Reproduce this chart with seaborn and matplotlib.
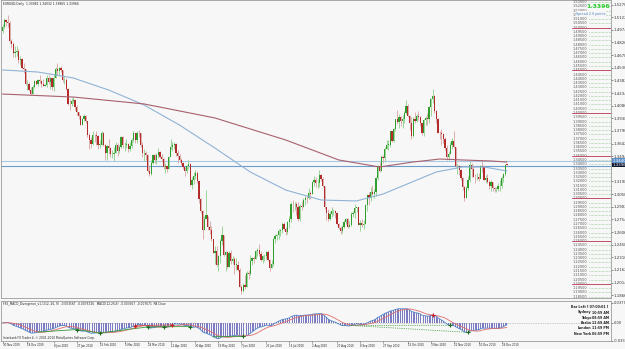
import numpy as np
import pandas as pd
import matplotlib
matplotlib.use("Agg")
import matplotlib.pyplot as plt
import matplotlib.transforms as mtransforms
import seaborn as sns

# EURUSD daily bars, one row per week (Mon..Fri), 30 Nov 2009 .. 3 Jan 2011
closes = [
    1.5005, 1.5090, 1.5060, 1.5055, 1.4845,
    1.4805, 1.4700, 1.4720, 1.4730, 1.4615,
    1.4630, 1.4530, 1.4510, 1.4340, 1.4345,
    1.4275, 1.4225, 1.4305, 1.4370, 1.4345,
    1.4385, 1.4375, 1.4335, 1.4320, 1.4330,
    1.4415, 1.4365, 1.4405, 1.4310, 1.4410,
    1.4510, 1.4490, 1.4525, 1.4500, 1.4385,
    1.4390, 1.4285, 1.4105, 1.4100, 1.4145,
    1.4150, 1.4075, 1.4015, 1.3960, 1.3865,
    1.3930, 1.3960, 1.3910, 1.3740, 1.3680,
    1.3635, 1.3745, 1.3740, 1.3730, 1.3630,
    1.3630, 1.3770, 1.3630, 1.3530, 1.3610,
    1.3595, 1.3515, 1.3520, 1.3530, 1.3625,
    1.3560, 1.3600, 1.3720, 1.3620, 1.3630,
    1.3635, 1.3575, 1.3615, 1.3680, 1.3760,
    1.3680, 1.3770, 1.3765, 1.3630, 1.3530,
    1.3530, 1.3510, 1.3315, 1.3290, 1.3410,
    1.3505, 1.3445, 1.3510, 1.3545, 1.3490,
    1.3460, 1.3365, 1.3380, 1.3345, 1.3480,
    1.3605, 1.3630, 1.3640, 1.3535, 1.3495,
    1.3455, 1.3415, 1.3365, 1.3315, 1.3375,
    1.3405, 1.3160, 1.3220, 1.3265, 1.3295,
    1.3200, 1.2995, 1.2850, 1.2630, 1.2760,
    1.2800, 1.2660, 1.2625, 1.2520, 1.2360,
    1.2380, 1.2225, 1.2330, 1.2500, 1.2570,
    1.2340, 1.2375, 1.2200, 1.2360, 1.2270,
    1.2285, 1.2225, 1.2225, 1.2160, 1.1965,
    1.1920, 1.1985, 1.1965, 1.2130, 1.2110,
    1.2270, 1.2300, 1.2290, 1.2380, 1.2390,
    1.2345, 1.2280, 1.2320, 1.2330, 1.2375,
    1.2275, 1.2190, 1.2230, 1.2520, 1.2565,
    1.2570, 1.2620, 1.2625, 1.2700, 1.2640,
    1.2610, 1.2725, 1.2760, 1.2940, 1.2935,
    1.2940, 1.2905, 1.2760, 1.2915, 1.2905,
    1.2985, 1.3010, 1.3000, 1.3065, 1.3050,
    1.3190, 1.3215, 1.3175, 1.3185, 1.3275,
    1.3225, 1.3145, 1.2895, 1.2830, 1.2755,
    1.2815, 1.2850, 1.2850, 1.2825, 1.2705,
    1.2655, 1.2620, 1.2660, 1.2725, 1.2760,
    1.2660, 1.2685, 1.2815, 1.2830, 1.2890,
    1.2900, 1.2690, 1.2710, 1.2685, 1.2700,
    1.2920, 1.3040, 1.3000, 1.3080, 1.3050,
    1.3070, 1.3235, 1.3380, 1.3325, 1.3490,
    1.3470, 1.3580, 1.3630, 1.3630, 1.3785,
    1.3675, 1.3810, 1.3925, 1.3895, 1.3950,
    1.3905, 1.3930, 1.4000, 1.4085, 1.3965,
    1.3880, 1.3725, 1.3935, 1.3910, 1.3960,
    1.3955, 1.3885, 1.3760, 1.3915, 1.3945,
    1.3925, 1.4065, 1.4165, 1.4200, 1.4025,
    1.3925, 1.3770, 1.3765, 1.3750, 1.3690,
    1.3590, 1.3485, 1.3520, 1.3620, 1.3670,
    1.3600, 1.3375, 1.3375, 1.3330, 1.3240,
    1.3130, 1.3005, 1.3125, 1.3215, 1.3395,
    1.3350, 1.3255, 1.3245, 1.3255, 1.3225,
    1.3385, 1.3370, 1.3215, 1.3240, 1.3190,
    1.3150, 1.3190, 1.3120, 1.3105, 1.3110,
    1.3145, 1.3150, 1.3235, 1.3285, 1.3390,
    1.33966,
]
highs = [
    1.5040, 1.5110, 1.5100, 1.5145, 1.5075,
    1.4865, 1.4830, 1.4785, 1.4780, 1.4745,
    1.4670, 1.4640, 1.4585, 1.4520, 1.4385,
    1.4365, 1.4300, 1.4330, 1.4385, 1.4375,
    1.4400, 1.4440, 1.4385, 1.4395, 1.4340,
    1.4450, 1.4445, 1.4425, 1.4410, 1.4460,
    1.4535, 1.4580, 1.4535, 1.4545, 1.4505,
    1.4425, 1.4410, 1.4290, 1.4165, 1.4175,
    1.4185, 1.4160, 1.4095, 1.4015, 1.3975,
    1.3940, 1.3990, 1.3975, 1.3910, 1.3765,
    1.3720, 1.3795, 1.3755, 1.3790, 1.3745,
    1.3685, 1.3790, 1.3780, 1.3640, 1.3630,
    1.3690, 1.3600, 1.3565, 1.3600, 1.3660,
    1.3650, 1.3625, 1.3735, 1.3725, 1.3660,
    1.3690, 1.3645, 1.3665, 1.3705, 1.3785,
    1.3770, 1.3785, 1.3800, 1.3765, 1.3660,
    1.3580, 1.3550, 1.3515, 1.3385, 1.3450,
    1.3525, 1.3515, 1.3530, 1.3585, 1.3555,
    1.3525, 1.3470, 1.3420, 1.3385, 1.3500,
    1.3690, 1.3655, 1.3665, 1.3645, 1.3565,
    1.3520, 1.3475, 1.3430, 1.3370, 1.3395,
    1.3445, 1.3415, 1.3255, 1.3310, 1.3335,
    1.3320, 1.3205, 1.3010, 1.2860, 1.2790,
    1.3095, 1.2795, 1.2735, 1.2675, 1.2530,
    1.2440, 1.2440, 1.2335, 1.2525, 1.2675,
    1.2575, 1.2380, 1.2385, 1.2385, 1.2390,
    1.2325, 1.2310, 1.2300, 1.2265, 1.2185,
    1.1990, 1.2010, 1.2100, 1.2150, 1.2165,
    1.2340, 1.2315, 1.2330, 1.2400, 1.2425,
    1.2470, 1.2380, 1.2340, 1.2345, 1.2385,
    1.2395, 1.2285, 1.2275, 1.2535, 1.2580,
    1.2585, 1.2645, 1.2645, 1.2720, 1.2720,
    1.2665, 1.2740, 1.2790, 1.2955, 1.2985,
    1.2960, 1.2955, 1.2955, 1.2935, 1.2965,
    1.3000, 1.3025, 1.3045, 1.3120, 1.3090,
    1.3200, 1.3265, 1.3245, 1.3225, 1.3333,
    1.3290, 1.3245, 1.3140, 1.2890, 1.2870,
    1.2850, 1.2900, 1.2880, 1.2865, 1.2835,
    1.2715, 1.2675, 1.2685, 1.2745, 1.2770,
    1.2770, 1.2730, 1.2835, 1.2850, 1.2935,
    1.2905, 1.2900, 1.2745, 1.2760, 1.2745,
    1.2930, 1.3050, 1.3075, 1.3130, 1.3160,
    1.3110, 1.3250, 1.3390, 1.3425, 1.3510,
    1.3505, 1.3600, 1.3685, 1.3680, 1.3795,
    1.3790, 1.3825, 1.3935, 1.4030, 1.3985,
    1.3970, 1.3980, 1.4020, 1.4155, 1.4100,
    1.3975, 1.3950, 1.3955, 1.4010, 1.3985,
    1.4020, 1.3965, 1.3885, 1.3925, 1.3970,
    1.4000, 1.4085, 1.4175, 1.4282, 1.4205,
    1.4035, 1.3945, 1.3790, 1.3810, 1.3765,
    1.3715, 1.3620, 1.3560, 1.3660, 1.3710,
    1.3785, 1.3600, 1.3415, 1.3395, 1.3340,
    1.3250, 1.3140, 1.3150, 1.3260, 1.3435,
    1.3420, 1.3395, 1.3280, 1.3300, 1.3295,
    1.3395, 1.3445, 1.3390, 1.3270, 1.3290,
    1.3220, 1.3215, 1.3195, 1.3135, 1.3130,
    1.3175, 1.3220, 1.3260, 1.3300, 1.3400,
    1.34032,
]
lows = [
    1.4940, 1.4990, 1.5015, 1.5010, 1.4820,
    1.4760, 1.4660, 1.4655, 1.4670, 1.4585,
    1.4560, 1.4510, 1.4470, 1.4325, 1.4265,
    1.4260, 1.4215, 1.4220, 1.4290, 1.4330,
    1.4320, 1.4350, 1.4305, 1.4315, 1.4315,
    1.4310, 1.4340, 1.4285, 1.4265, 1.4255,
    1.4410, 1.4450, 1.4435, 1.4480, 1.4360,
    1.4340, 1.4275, 1.4090, 1.4030, 1.4085,
    1.4120, 1.4035, 1.3975, 1.3930, 1.3855,
    1.3855, 1.3905, 1.3880, 1.3715, 1.3580,
    1.3590, 1.3630, 1.3660, 1.3620, 1.3580,
    1.3590, 1.3620, 1.3610, 1.3445, 1.3445,
    1.3520, 1.3490, 1.3470, 1.3435, 1.3530,
    1.3500, 1.3535, 1.3590, 1.3585, 1.3560,
    1.3585, 1.3545, 1.3560, 1.3590, 1.3660,
    1.3650, 1.3650, 1.3720, 1.3600, 1.3490,
    1.3435, 1.3445, 1.3305, 1.3265, 1.3270,
    1.3400, 1.3420, 1.3405, 1.3470, 1.3470,
    1.3425, 1.3340, 1.3300, 1.3305, 1.3340,
    1.3580, 1.3555, 1.3575, 1.3500, 1.3410,
    1.3425, 1.3395, 1.3340, 1.3260, 1.3300,
    1.3345, 1.3145, 1.3110, 1.3165, 1.3225,
    1.3180, 1.2950, 1.2825, 1.2520, 1.2655,
    1.2770, 1.2625, 1.2585, 1.2505, 1.2355,
    1.2235, 1.2210, 1.2145, 1.2245, 1.2455,
    1.2325, 1.2145, 1.2190, 1.2200, 1.2235,
    1.2235, 1.2110, 1.2160, 1.2150, 1.1960,
    1.1876, 1.1900, 1.1940, 1.1960, 1.2060,
    1.2100, 1.2220, 1.2240, 1.2285, 1.2330,
    1.2320, 1.2270, 1.2240, 1.2270, 1.2290,
    1.2270, 1.2150, 1.2185, 1.2210, 1.2475,
    1.2515, 1.2520, 1.2555, 1.2600, 1.2630,
    1.2575, 1.2580, 1.2655, 1.2725, 1.2840,
    1.2860, 1.2810, 1.2730, 1.2730, 1.2860,
    1.2895, 1.2925, 1.2950, 1.2990, 1.2995,
    1.3050, 1.3150, 1.3135, 1.3125, 1.3135,
    1.3205, 1.3135, 1.2880, 1.2745, 1.2735,
    1.2745, 1.2780, 1.2800, 1.2775, 1.2690,
    1.2640, 1.2585, 1.2590, 1.2650, 1.2695,
    1.2655, 1.2660, 1.2675, 1.2785, 1.2770,
    1.2845, 1.2685, 1.2615, 1.2670, 1.2640,
    1.2705, 1.2850, 1.2925, 1.2975, 1.3045,
    1.3010, 1.3025, 1.3220, 1.3305, 1.3315,
    1.3420, 1.3435, 1.3575, 1.3565, 1.3605,
    1.3655, 1.3665, 1.3795, 1.3870, 1.3830,
    1.3850, 1.3820, 1.3885, 1.3990, 1.3950,
    1.3800, 1.3695, 1.3715, 1.3880, 1.3890,
    1.3920, 1.3850, 1.3745, 1.3730, 1.3865,
    1.3860, 1.3885, 1.3970, 1.4115, 1.4000,
    1.3885, 1.3770, 1.3695, 1.3620, 1.3645,
    1.3570, 1.3450, 1.3445, 1.3520, 1.3580,
    1.3585, 1.3365, 1.3290, 1.3270, 1.3220,
    1.3100, 1.2969, 1.3000, 1.3100, 1.3195,
    1.3245, 1.3250, 1.3175, 1.3220, 1.3205,
    1.3235, 1.3305, 1.3210, 1.3180, 1.3175,
    1.3105, 1.3090, 1.3085, 1.3070, 1.3080,
    1.3090, 1.3090, 1.3125, 1.3195, 1.3265,
    1.33865,
]
firstOpen = 1.4960
lastOpen = 1.33982

# moving averages (bar index, price)
maFastIdx = [0, 20, 40, 60, 80, 100, 120, 140, 160, 180, 200, 215, 230, 245, 260, 272, 285]
maFastVals = [1.4504, 1.4480, 1.4410, 1.4269, 1.4094, 1.3859, 1.3590, 1.3309, 1.3098,
              1.2981, 1.2970, 1.3051, 1.3180, 1.3309, 1.3368, 1.3368, 1.3321]
maSlowIdx = [0, 40, 80, 120, 160, 190, 213, 232, 247, 260, 276, 285]
maSlowVals = [1.4222, 1.4187, 1.4106, 1.3942, 1.3684, 1.3450, 1.3368, 1.3426, 1.3461,
              1.3450, 1.3438, 1.3426]

# horizontal levels drawn on the chart
levelLines = [1.3440, 1.3385]
levelColors = ["#a9c8e4", "#6b9ccc"]

# right price scale labels
priceTicks = [1.5270, 1.5122, 1.4974, 1.4826, 1.4678, 1.4530, 1.4382, 1.4234, 1.4086,
              1.3938, 1.3790, 1.3642, 1.3494, 1.3198, 1.3050, 1.2902, 1.2754,
              1.2606, 1.2458, 1.2310, 1.2162, 1.2014, 1.1866]

# price ladder levels in pips (every 50 pips, red mark every 500)
ladderPips = list(range(11850, 15301, 50))

dateLabels = ["30 Nov 2009", "18 Dec 2009", "8 Jan 2010", "27 Jan 2010", "15 Feb 2010",
              "5 Mar 2010", "24 Mar 2010", "12 Apr 2010", "30 Apr 2010", "19 May 2010",
              "7 Jun 2010", "25 Jun 2010", "14 Jul 2010", "2 Aug 2010", "20 Aug 2010",
              "8 Sep 2010", "27 Sep 2010", "15 Oct 2010", "3 Nov 2010", "22 Nov 2010",
              "10 Dec 2010", "29 Dec 2010"]

# MACD divergence links (bar index pairs)
greenLinks = [(20, 42), (42, 55), (55, 82), (82, 91), (91, 106), (119, 136)]
greenDotted = [(197, 253), (197, 263)]
redLinks = [(75, 96)]
redMarks = [243]

sessions = [("Sydney", "10:59 AM"), ("Tokyo", "08:59 AM"), ("Berlin", "12:59 AM"),
            ("London", "11:59 PM"), ("New York", "06:59 PM")]


def main():
    dates = pd.bdate_range("2009-11-30", "2011-01-03")
    n = len(dates)
    assert len(closes) == n and len(highs) == n and len(lows) == n
    idx = np.arange(n)
    c = np.array(closes)
    h = np.array(highs)
    l = np.array(lows)
    o = np.concatenate([[firstOpen], c[:-1]])
    o[-1] = lastOpen

    s = pd.Series(c)
    macd = s.ewm(span=12, adjust=False).mean() - s.ewm(span=26, adjust=False).mean()
    signal = macd.rolling(9, min_periods=1).mean()

    sns.set_style("white")
    plt.rcParams["font.family"] = ["DejaVu Sans"]
    bg = "#f7f7f7"
    frame = "#9c9c9c"
    txt = "#222222"
    W, H = 625.0, 349.0

    fig = plt.figure(figsize=(6.25, 3.49), dpi=100)
    fig.patch.set_facecolor(bg)
    axMain = fig.add_axes([0.5 / W, 1 - 298 / H, 610 / W, 298 / H])
    axMacd = fig.add_axes([0.5 / W, 1 - 341 / H, 610 / W, 40 / H])

    pxPerBar = 1.77
    xlo = -2 / pxPerBar
    xhi = xlo + 610 / pxPerBar
    yTop = 1.40 + 113 * 0.001171
    yBot = 1.40 - 185 * 0.001171

    for ax in (axMain, axMacd):
        ax.set_facecolor(bg)
        ax.set_xlim(xlo, xhi)
        for sp in ax.spines.values():
            sp.set_color(frame)
            sp.set_linewidth(0.6)
        ax.tick_params(axis="x", bottom=False, labelbottom=False)
    axMain.set_ylim(yBot, yTop)

    # candles
    up = c >= o
    bullBody, bullWick = "#2f9e2f", "#8ccf8c"
    bearBody, bearWick = "#b32b2b", "#d9a3a3"
    axMain.vlines(idx[up], l[up], h[up], color=bullWick, lw=0.6, zorder=2)
    axMain.vlines(idx[~up], l[~up], h[~up], color=bearWick, lw=0.6, zorder=2)
    bodyLo = np.minimum(o, c)
    bodyH = np.maximum(np.abs(c - o), 0.0004)
    axMain.bar(idx[up], bodyH[up], bottom=bodyLo[up], width=0.7, color=bullBody,
               linewidth=0, zorder=3)
    axMain.bar(idx[~up], bodyH[~up], bottom=bodyLo[~up], width=0.7, color=bearBody,
               linewidth=0, zorder=3)

    # moving averages
    sns.lineplot(x=maFastIdx, y=maFastVals, ax=axMain, color="#8fb3d6", lw=0.8, zorder=4)
    sns.lineplot(x=maSlowIdx, y=maSlowVals, ax=axMain, color="#a8606e", lw=0.8, zorder=4)

    for lv, col in zip(levelLines, levelColors):
        axMain.axhline(lv, color=col, lw=0.8, zorder=1)

    # price ladder on the right edge of the chart
    trans = mtransforms.blended_transform_factory(axMain.transAxes, axMain.transData)
    for pip in ladderPips:
        lv = pip / 10000.0
        axMain.text(572 / 610, lv, "%.5f" % lv, transform=trans, fontsize=2.5,
                    color="#555555", va="center", ha="left", zorder=5)
        axMain.plot([588 / 610, 1.0], [lv, lv], transform=trans, color="#5aa85a",
                    lw=0.4, ls=(0, (1, 1.5)), zorder=4)
        if pip % 500 == 0:
            axMain.plot([571 / 610, 1.0], [lv, lv], transform=trans,
                        color="#c05068", lw=0.7, zorder=5)

    axMain.yaxis.tick_right()
    axMain.set_yticks(priceTicks)
    axMain.set_yticklabels(["%.5f" % v for v in priceTicks])
    axMain.tick_params(axis="y", labelsize=2.8, length=1.5, pad=1, colors="#333333",
                       width=0.4)
    axMain.text(1.003, 1.33966, "1.33966", transform=trans, fontsize=2.8, color="white",
                va="center", ha="left", zorder=6,
                bbox=dict(boxstyle="square,pad=0.15", fc="#101830", ec="none"))
    axMain.text(1.003, levelLines[0], "1.34400", transform=trans, fontsize=2.8,
                color="white", va="center", ha="left", zorder=6,
                bbox=dict(boxstyle="square,pad=0.15", fc="#5b8fc8", ec="none"))

    axMain.text(0.004, 0.992, "EURUSD,Daily  1.33982 1.34032 1.33865 1.33966",
                transform=axMain.transAxes, fontsize=2.2, color=txt, va="top")
    axMain.text(586 / 610, 1 - 7 / 298, "1.3396", transform=axMain.transAxes, fontsize=4.4,
                color="#2ecc2e", weight="bold", va="center", ha="left", zorder=6)
    axMain.text(576 / 610, 1 - 13.5 / 298, "Spread 2.0 points", transform=axMain.transAxes,
                fontsize=2.4, color="#4a80c0", va="center", ha="left", zorder=6,
                bbox=dict(boxstyle="square,pad=0.05", fc=bg, ec="none"))

    # MACD panel
    axMacd.bar(idx, macd.values, width=0.55, color="#7c7cc2", linewidth=0, zorder=2)
    axMacd.axhline(0, color="#9a9a9a", lw=0.5, ls=(0, (1, 1.5)), zorder=1)
    sns.lineplot(x=idx, y=macd.values, ax=axMacd, color="#4f86c6", lw=0.6, zorder=3)
    sns.lineplot(x=idx, y=signal.values, ax=axMacd, color="#e06c6c", lw=0.6, zorder=3)
    lo = macd.min() * 1.15
    hi = -lo * 22 / 18
    axMacd.set_ylim(lo, hi)
    axMacd.set_ylabel("")
    axMain.set_ylabel("")

    mv = macd.values
    for a, b in greenLinks:
        axMacd.plot([a, b], [mv[a], mv[b]], color="#3c9a3c", lw=0.6, zorder=4)
        axMacd.plot([b], [mv[b]], marker="+", ms=2.5, mew=0.8, color="#1d6b1d", zorder=5)
    for a, b in greenDotted:
        axMacd.plot([a, b], [mv[a], mv[b]], color="#3c9a3c", lw=0.6, ls=(0, (1, 1.2)),
                    zorder=4)
        axMacd.plot([b], [mv[b]], marker="+", ms=2.5, mew=0.8, color="#1d6b1d", zorder=5)
    for a, b in redLinks:
        axMacd.plot([a, b], [mv[a], mv[b]], color="#d04040", lw=0.5, zorder=4)
        axMacd.plot([a, b], [mv[a], mv[b]], ls="none", marker="+", ms=2.5, mew=0.8,
                    color="#cc2020", zorder=5)
    for a in redMarks:
        axMacd.plot([a], [mv[a]], marker="+", ms=2.5, mew=0.8, color="#cc2020", zorder=5)

    axMacd.yaxis.tick_right()
    axMacd.set_yticks([hi * 0.93, 0, lo])
    axMacd.set_yticklabels(["%.5f" % (hi * 0.93), "0.00", "%.5f" % lo])
    axMacd.tick_params(axis="y", labelsize=2.6, length=1.5, pad=1, colors="#333333",
                       width=0.4)

    axMacd.text(0.004, (341 - 304) / 40, "FX5_MACD_Divergence_v1.1(12, 26, 9)  -0.003567  "
                "-0.0076726   MACD(12,26,9)  -0.003567  -0.007671  PA Close",
                transform=axMacd.transAxes, fontsize=2.1, color=txt, va="center")
    axMacd.text(0.004, (341 - 337.5) / 40,
                "Interbank FX Trader 4, \u00a9 2001-2010 MetaQuotes Software Corp.",
                transform=axMacd.transAxes, fontsize=2.1, color=txt, va="center")

    axMacd.text(608 / 610, (341 - 306.5) / 40, "Bar Left [ 07:00:01 ]",
                transform=axMacd.transAxes, fontsize=2.3, color=txt, va="center",
                ha="right", weight="bold")
    for k, (city, tm) in enumerate(sessions):
        yy = (341 - (312.5 + k * 5.3)) / 40
        axMacd.text(591 / 610, yy, city, transform=axMacd.transAxes, fontsize=2.3,
                    color=txt, va="center", ha="right", weight="bold")
        axMacd.text(608 / 610, yy, tm, transform=axMacd.transAxes, fontsize=2.3,
                    color=txt, va="center", ha="right", weight="bold")

    # date labels under the indicator window
    dtrans = mtransforms.blended_transform_factory(axMacd.transData, fig.transFigure)
    for lab in dateLabels:
        pos = dates.get_loc(pd.Timestamp(lab))
        axMacd.text(pos, 1 - 345.5 / H, lab, transform=dtrans, fontsize=1.9,
                    color=txt, va="center", ha="left")
        axMacd.plot([pos, pos], [1 - 341 / H, 1 - 342.5 / H], transform=dtrans,
                    color="#555555", lw=0.4, clip_on=False)

    fig.savefig("out.png", dpi=100, facecolor=bg)
    plt.close(fig)


if __name__ == "__main__":
    main()
